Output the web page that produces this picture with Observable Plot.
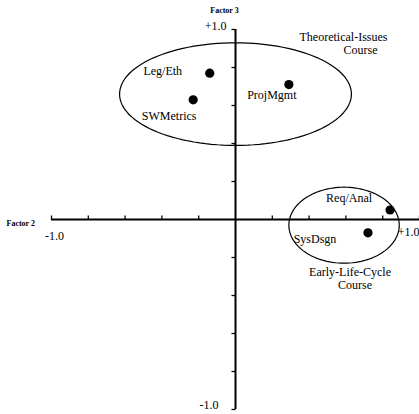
<!DOCTYPE html>
<html>
<head>
<meta charset="utf-8">
<script src="https://cdn.jsdelivr.net/npm/d3@7"></script>
<script src="https://cdn.jsdelivr.net/npm/@observablehq/plot@0.6"></script>
<style>
  body { margin: 0; background: #fff; }
  #chart svg { display: block; }
  #chart svg, #chart svg text { font-family: "Liberation Serif", "Times New Roman", serif !important; }
</style>
</head>
<body>
<div id="chart"></div>
<script>
// Factor loadings of each course on factors 2 and 3
const courses = ["Leg/Eth", "SWMetrics", "ProjMgmt", "Req/Anal", "SysDsgn"];
const factor2 = [-0.14, -0.23, 0.29, 0.84, 0.72];
const factor3 = [0.77, 0.63, 0.71, 0.05, -0.07];

// Tick positions on both axes
const tickValues = [-1, -0.8, -0.6, -0.4, -0.2, 0.2, 0.4, 0.6, 0.8, 1];

// Course groupings drawn as ellipses (centre and radii in loading units)
const clusterLines = [["Theoretical-Issues", "Course"], ["Early-Life-Cycle", "Course"]];
const clusterCx = [0, 0.59];
const clusterCy = [0.66, -0.03];
const clusterRx = [0.63, 0.30];
const clusterRy = [0.27, 0.20];

const points = courses.map((name, i) => ({name, f2: factor2[i], f3: factor3[i]}));

// label placement next to each dot (pixels)
const labelShift = {
  "Leg/Eth": [-47, -2],
  "SWMetrics": [-24, 16],
  "ProjMgmt": [-17, 11],
  "Req/Anal": [-41, -12],
  "SysDsgn": [-53, 6]
};

// outline of each grouping, traced around its centre
const outline = clusterCx.flatMap((cx, k) =>
  d3.range(0, 121).map(j => {
    const a = (j / 120) * 2 * Math.PI;
    return {k, x: cx + clusterRx[k] * Math.cos(a), y: clusterCy[k] + clusterRy[k] * Math.sin(a)};
  })
);

// group titles, two staggered lines each, placed from the ellipse centre
const titleShift = [[[108, -57], [125, -44]], [[6, 47], [11, 60]]];
const titles = clusterLines.flatMap((lines, k) =>
  lines.map((text, j) => ({text, x: clusterCx[k], y: clusterCy[k], dx: titleShift[k][j][0], dy: titleShift[k][j][1]}))
);

const tickUp = {draw(ctx) { ctx.moveTo(0, 0); ctx.lineTo(0, -4); }};
const tickLeft = {draw(ctx) { ctx.moveTo(0, 0); ctx.lineTo(-4, 0); }};

const serif = "Liberation Serif";

const chart = Plot.plot({
  width: 419,
  height: 414,
  margin: 0,
  style: {fontFamily: serif, fontSize: "12px", background: "#fff", color: "#000"},
  x: {domain: [-1, 1], range: [51, 419], axis: null},
  y: {domain: [-1, 1], range: [409, 29], axis: null},
  marks: [
    // axes through the origin
    Plot.ruleY([0], {x1: -1, x2: 1, stroke: "#000", strokeWidth: 2}),
    Plot.ruleX([0], {y1: -1, y2: 1, stroke: "#000", strokeWidth: 2}),
    Plot.dot(tickValues, {x: d => d, y: 0, symbol: tickUp, fill: "none", stroke: "#000", strokeWidth: 1.3}),
    Plot.dot(tickValues, {x: 0, y: d => d, symbol: tickLeft, fill: "none", stroke: "#000", strokeWidth: 1.3}),

    // group ellipses
    Plot.line(outline, {x: "x", y: "y", z: "k", stroke: "#000", strokeWidth: 1.2}),

    // courses
    Plot.dot(points, {x: "f2", y: "f3", r: 4.6, fill: "#000", stroke: "none"}),
    ...points.map(p => Plot.text([p], {
      x: "f2", y: "f3", text: "name",
      dx: labelShift[p.name][0], dy: labelShift[p.name][1],
      fill: "#000", fontSize: 12, fontFamily: serif
    })),

    // group titles
    ...titles.map(t => Plot.text([t], {x: "x", y: "y", text: "text", dx: t.dx, dy: t.dy, fill: "#000", fontSize: 12, fontFamily: serif})),

    // axis end labels
    Plot.text(["+1.0"], {x: 0, y: 1, text: d => d, textAnchor: "end", dx: -9, dy: -3, fontSize: 12, fontFamily: serif, fill: "#000"}),
    Plot.text(["-1.0"], {x: 0, y: -1, text: d => d, textAnchor: "end", dx: -17, dy: -4, fontSize: 12, fontFamily: serif, fill: "#000"}),
    Plot.text(["-1.0"], {x: -1, y: 0, text: d => d, dx: 3, dy: 17, fontSize: 12, fontFamily: serif, fill: "#000"}),
    Plot.text(["+1.0"], {x: 1, y: 0, text: d => d, textAnchor: "end", dy: 13, fontSize: 12, fontFamily: serif, fill: "#000"}),

    // axis titles
    Plot.text(["Factor 3"], {x: 0, y: 1, text: d => d, dx: -11, dy: -19, fontSize: 8, fontWeight: "bold", fontFamily: serif, fill: "#000"}),
    Plot.text(["Factor 2"], {x: -1, y: 0, text: d => d, textAnchor: "start", dx: -45, dy: 4, fontSize: 8, fontWeight: "bold", fontFamily: serif, fill: "#000"})
  ]
});

document.getElementById("chart").appendChild(chart);
</script>
</body>
</html>
